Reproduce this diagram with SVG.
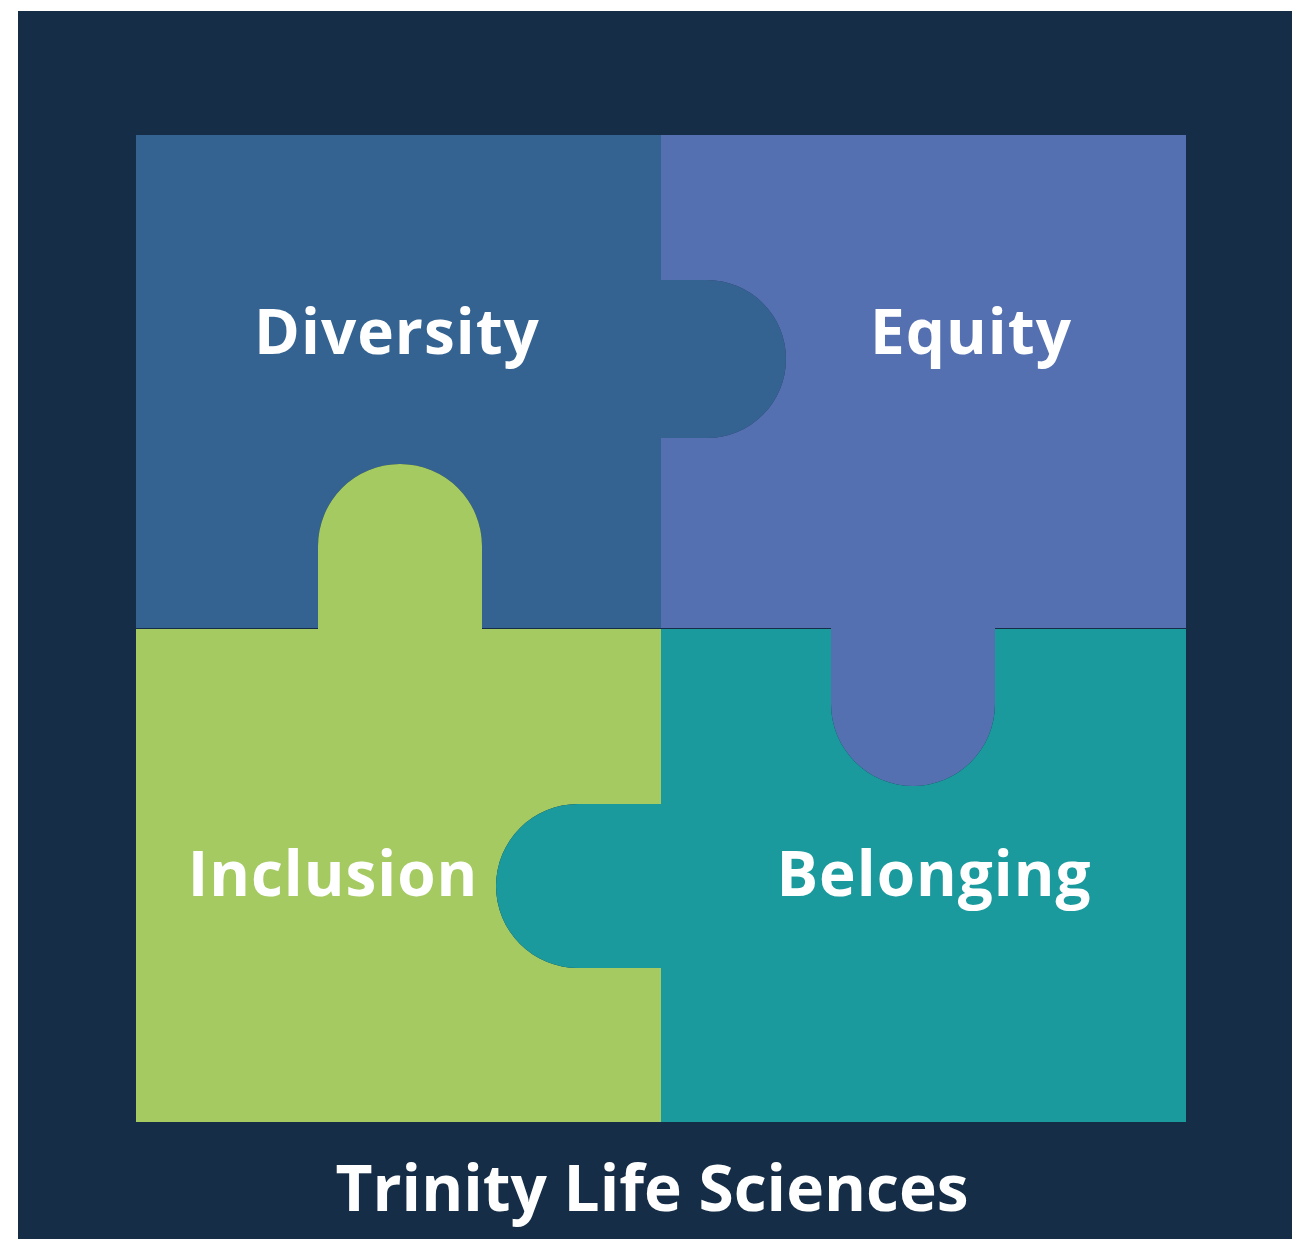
<svg xmlns="http://www.w3.org/2000/svg" width="1292" height="1239" viewBox="0 0 1292 1239">
  <style>
    .label { font-family: "Open Sans", "Noto Sans", "Liberation Sans", sans-serif; font-weight: 700; fill: #ffffff; text-anchor: middle; }
    .piece-label { font-size: 62px; letter-spacing: 1px; }
    .footer { font-size: 64px; }
  </style>
  <rect x="0" y="0" width="1292" height="1239" fill="#ffffff"/>
  <rect id="frame" x="18" y="11" width="1274" height="1228" fill="#152d46"/>

  <!-- four interlocking puzzle pieces -->
  <g id="diversity">
    <path fill="#346392" d="M136,135 H661 V280 H707 A79,79 0 0 1 707,438 H661 V628 H482 V546 A82,82 0 0 0 318,546 V628 H136 Z"/>
    <text class="label piece-label" x="397" y="354">Diversity</text>
  </g>
  <g id="equity">
    <path fill="#5470b1" d="M661,135 H1186 V628 H995 V704 A82,82 0 0 1 831,704 V628 H661 V438 H707 A79,79 0 0 0 707,280 H661 Z"/>
    <text class="label piece-label" x="971" y="354">Equity</text>
  </g>
  <g id="inclusion">
    <path fill="#a5ca62" d="M136,629 H318 V546 A82,82 0 0 1 482,546 V629 H661 V804 H578 A82,82 0 0 0 578,968 H661 V1122 H136 Z"/>
    <text class="label piece-label" x="333" y="896">Inclusion</text>
  </g>
  <g id="belonging">
    <path fill="#1a9a9c" d="M661,629 H831 V704 A82,82 0 0 0 995,704 V629 H1186 V1122 H661 V968 H578 A82,82 0 0 1 578,804 H661 Z"/>
    <text class="label piece-label" x="934" y="896">Belonging</text>
  </g>

  <g id="connectors"/>

  <text id="title" class="label footer" x="652" y="1211">Trinity Life Sciences</text>
</svg>
